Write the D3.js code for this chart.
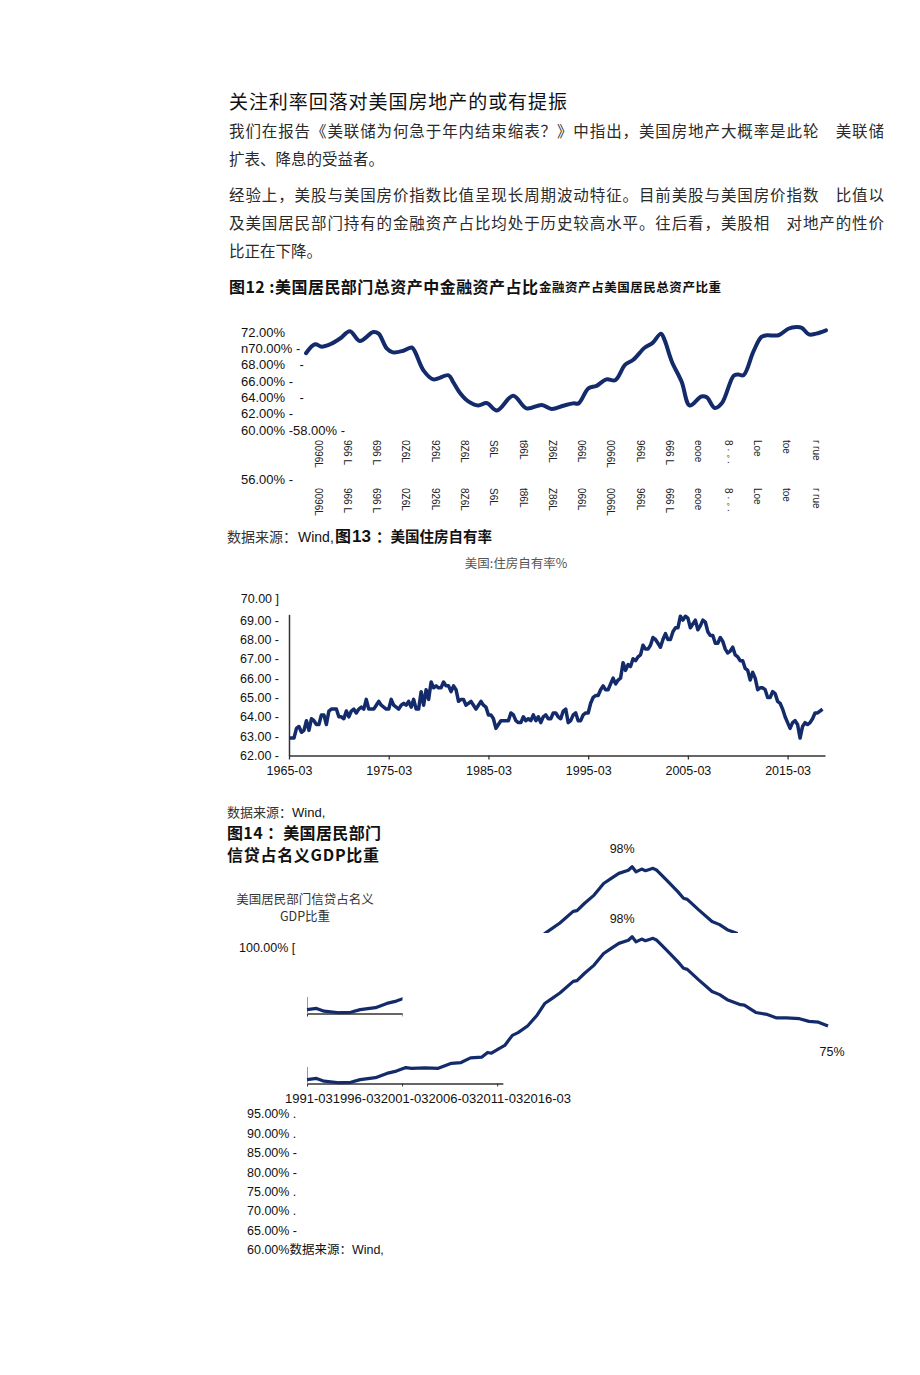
<!DOCTYPE html>
<html>
<head>
<meta charset="utf-8">
<script src="https://cdn.jsdelivr.net/npm/d3@7"></script>
<style>
  body { margin: 0; background: #fff; }
  svg text { font-family: "Liberation Sans", Arial, "Noto Sans CJK SC", sans-serif; fill: #111; }
  .cjk { font-family: "Noto Sans CJK SC", sans-serif; }
</style>
</head>
<body>
<svg width="920" height="1375"></svg>
<script>
// ---- text of the page ----
var heading = "关注利率回落对美国房地产的或有提振";
var para1 = ["我们在报告《美联储为何急于年内结束缩表？》中指出，美国房地产大概率是此轮　美联储",
             "扩表、降息的受益者。"];
var para2 = ["经验上，美股与美国房价指数比值呈现长周期波动特征。目前美股与美国房价指数　比值以",
             "及美国居民部门持有的金融资产占比均处于历史较高水平。往后看，美股相　对地产的性价",
             "比正在下降。"];

// ---- fig 12: financial assets share of household total assets ----
var faYears = [1960,1961,1961.75,1962.7,1963.8,1964.9,1966,1967.5,1968.1,1969,1969.7,1970.85,1971.8,1972.15,1973.1,
  1974.2,1975.9,1976.4,1977.2,1978.1,1979.2,1980.15,1981.3,1983.1,1984.6,1986.3,1987.4,1988.7,1989.8,1990.4,
  1991.5,1992.4,1993.5,1994.5,1995.6,1996.5,1997.8,1998.6,1999.6,2000,2000.8,2001.9,2002.8,2004.1,2004.7,
  2005.6,2006.4,2007.7,2008.2,2008.8,2009.9,2010.8,2011.4,2012.7,2013.8,2014.7,2015.3,2016.1,2016.9,2018];
var faValues = [69.4,70.5,70.2,70.5,71.2,72.1,70.9,72.0,71.8,70.0,69.5,69.7,70.1,69.6,67.3,
  66.2,66.7,65.9,64.5,63.5,63.0,63.3,62.4,64.2,62.65,63.06,62.57,62.97,63.26,63.26,
  65.1,65.4,66.2,66.1,68.0,68.6,70.1,70.6,71.8,71.0,68.4,65.9,63.0,64.1,64.0,
  62.7,63.3,66.65,66.8,66.7,69.6,71.4,71.6,71.6,72.4,72.6,72.5,71.7,71.8,72.2];
var faYTickValues = [72, 70, 68, 66, 64, 62, 60, 56];
var faYTickLabels = ["72.00%", "n70.00% -", "68.00%    -", "66.00% -", "64.00%    -", "62.00% -", "60.00% -58.00% -", "56.00% -"];
var faXLabels = ["0096L","966 L","696 L","0Z6L","926L","8Z6L","S6L","t86L","Z86L",
                 "066L","0066L","966L","666 L","eooe","8 · ◦ ·","Loe","toe","r rue"];

// ---- fig 13: US homeownership rate, quarterly from 1965-03 ----
var hoStart = 1965;
var hoValues = [
  62.9,62.9,62.9,63.4, 63.5,63.2,63.3,63.8, 63.3,63.9,63.8,63.6, 63.6,64.1,64.1,63.6,
  64.3,64.4,64.4,64.4, 64.0,64.0,63.9,64.3, 64.0,64.3,64.4,64.2, 64.4,64.5,64.4,64.9,
  64.4,64.4,64.4,64.6, 64.8,64.6,64.5,64.4, 64.4,64.9,64.6,64.5, 64.4,64.6,64.7,64.6,
  64.8,64.5,64.9,64.4, 64.4,65.3,64.6,65.4, 64.9,65.8,65.5,65.6, 65.5,65.5,65.8,65.6,
  65.6,65.3,65.6,65.4, 64.8,64.9,64.9,64.6, 64.7,64.8,64.6,64.4, 64.6,64.8,64.6,64.5,
  64.1,64.1,63.9,63.4, 63.6,63.8,63.8,63.8, 63.8,64.2,64.1,63.8, 63.7,63.7,64.0,63.8,
  63.9,63.8,64.1,63.8, 64.0,63.7,64.0,64.1, 63.9,63.9,64.2,64.2, 64.0,63.9,64.3,64.4,
  63.7,63.8,64.1,64.2, 63.8,63.8,64.1,64.2, 64.2,64.7,65.0,65.1, 65.1,65.4,65.6,65.4,
  65.4,65.7,66.0,65.7, 65.9,66.0,66.8,66.4, 66.7,66.6,67.0,66.9, 67.1,67.2,67.7,67.5,
  67.5,67.7,68.1,68.0, 67.8,67.6,68.0,68.3, 68.0,68.0,68.4,68.6, 68.6,69.2,69.0,69.2,
  69.1,68.6,68.8,69.0, 68.5,68.7,69.0,68.9, 68.4,68.2,68.2,67.8, 67.8,68.1,67.9,67.5,
  67.3,67.4,67.6,67.2, 67.1,66.9,66.9,66.5, 66.4,65.9,66.3,66.0, 65.4,65.5,65.5,65.4,
  65.0,65.0,65.3,65.2, 64.8,64.7,64.4,64.0, 63.7,63.4,63.7,63.8, 63.6,62.9,63.5,63.7,
  63.6,63.7,63.9,64.2, 64.2,64.3,64.4];
var hoYTicks = [69, 68, 67, 66, 65, 64, 63, 62];
var hoXTicks = [1965, 1975, 1985, 1995, 2005, 2015];

// ---- fig 14: household credit / nominal GDP ----
var crYears = [1991.0,1991.5,1991.9,1992.7,1993.3,1993.8,1994.6,1995.2,1995.7,1996.2,1996.5,1997.2,1997.9,1998.6,1999.1,
  1999.6,2000.2,2000.5,2000.7,2001.1,2001.4,2001.8,2002.1,2002.6,2003.1,2003.5,2003.8,2004.3,2005.0,2005.2,
  2005.6,2006.1,2006.6,2007.0,2007.4,2007.9,2008.1,2008.3,2008.6,2008.8,2009.2,2009.4,2009.9,2010.5,2010.8,
  2011.0,2011.6,2012.3,2012.7,2013.1,2013.8,2014.0,2014.6,2015.2,2015.7,2016.2,2016.9,2017.4,2017.9,2018.4];
var crValues = [61.0,61.3,60.6,60.2,60.3,61.0,61.5,62.6,63.2,64.1,63.9,64.0,63.9,65.2,65.4,
  66.6,66.8,68.0,67.8,69.0,69.8,72.4,73.1,74.8,77.6,80.6,81.6,83.3,86.3,86.5,
  88.4,90.5,93.5,94.8,96.1,96.9,97.8,96.5,97.2,96.8,97.4,96.9,94.4,91.4,89.7,
  89.4,86.7,83.7,82.9,81.6,80.3,80.2,78.3,77.8,76.9,76.9,76.7,76.0,75.8,74.8];
var crXLabels = ["1991-03","1996-03","2001-03","2006-03","2011-03","2016-03"];
var crYLabels = ["95.00% .","90.00% .","85.00% -","80.00% -","75.00% .","70.00% .","65.00% -","60.00%数据来源：Wind,"];

var navy = "#132b6b";
var svg = d3.select("svg");
svg.append("rect").attr("width", 920).attr("height", 1375).attr("fill", "#fff");

// ---------- prose ----------
svg.append("text").attr("class", "cjk").attr("x", 229).attr("y", 109)
    .attr("font-size", "19px").attr("textLength", 338).attr("lengthAdjust", "spacing")
    .text(heading);

function bodyLines(lines, y0) {
  lines.forEach(function(s, i) {
    var t = svg.append("text").attr("class", "cjk")
        .attr("x", 229).attr("y", y0 + i * 28)
        .attr("font-size", "15.5px").style("fill", "#2a2a2a")
        .attr("xml:space", "preserve")
        .text(s);
    if (i < lines.length - 1) t.attr("textLength", 655).attr("lengthAdjust", "spacing");
  });
}
bodyLines(para1, 136.5);
bodyLines(para2, 200.5);

// fig 12 caption
svg.append("text").attr("class", "cjk").attr("x", 229).attr("y", 293)
    .attr("font-size", "16px").attr("font-weight", "bold")
    .attr("textLength", 309).attr("lengthAdjust", "spacing")
    .text("图12 :美国居民部门总资产中金融资产占比");
svg.append("text").attr("class", "cjk").attr("x", 539).attr("y", 292)
    .attr("font-size", "12.5px").attr("font-weight", "bold")
    .attr("textLength", 182).attr("lengthAdjust", "spacing")
    .text("金融资产占美国居民总资产比重");

// ---------- fig 12 chart ----------
var fx = d3.scaleLinear().domain([1960, 2018]).range([306, 826]);
var fy = d3.scaleLinear().domain([56, 60, 72]).range([479, 430, 332]);

svg.append("g").selectAll("text")
  .data(faYTickValues)
  .enter().append("text")
    .attr("x", 241).attr("y", function(d) { return fy(d); })
    .attr("dy", "0.35em").attr("font-size", "13px")
    .attr("xml:space", "preserve")
    .text(function(d, i) { return faYTickLabels[i]; });

var faLine = d3.line()
    .curve(d3.curveCatmullRom.alpha(0.5))
    .x(function(d) { return fx(d[0]); })
    .y(function(d) { return fy(d[1]); });
svg.append("path")
    .datum(d3.zip(faYears, faValues))
    .attr("fill", "none").attr("stroke", navy).attr("stroke-width", 4)
    .attr("stroke-linejoin", "round").attr("stroke-linecap", "round")
    .attr("d", faLine);

// mangled vertical year labels, printed twice, turned on their side
var fl = d3.scalePoint().domain(d3.range(faXLabels.length)).range([318, 816]);
[440, 488].forEach(function(top) {
  svg.append("g").selectAll("text")
    .data(faXLabels)
    .enter().append("text")
      .attr("transform", function(d, i) { return "translate(" + fl(i) + "," + top + ") rotate(90)"; })
      .attr("dy", "0.35em").attr("font-size", "10px")
      .attr("xml:space", "preserve").style("fill", "#222")
      .text(function(d) { return d; });
});

// ---------- fig 13 ----------
var src = svg.append("text").attr("x", 227).attr("y", 542);
src.append("tspan").attr("class", "cjk").attr("font-size", "14px").style("fill", "#333").text("数据来源：");
src.append("tspan").attr("x", 298).attr("font-size", "14px").text("Wind,");
src.append("tspan").attr("x", 335).attr("class", "cjk").attr("font-size", "16px").attr("font-weight", "bold").text("图");
src.append("tspan").attr("x", 352).attr("font-size", "17px").attr("font-weight", "bold").text("13");
src.append("tspan").attr("x", 376).attr("class", "cjk").attr("font-size", "14.5px").attr("font-weight", "bold").text("：美国住房自有率");

svg.append("text").attr("class", "cjk").attr("x", 516).attr("y", 568)
    .attr("text-anchor", "middle").attr("font-size", "12.5px").style("fill", "#555")
    .text("美国:住房自有率%");

var hx = d3.scaleLinear().domain([1965, 2018.75]).range([289, 825]);
var hy = d3.scaleLinear().domain([62, 69.3]).range([755.5, 614.3]);
var hoData = hoValues.map(function(v, i) { return [hoStart + i / 4, v]; });

var gY = svg.append("g").attr("transform", "translate(289,0)")
    .call(d3.axisLeft(hy).tickValues(hoYTicks).tickSize(0).tickSizeOuter(0).tickPadding(10)
      .tickFormat(function(d) { return d3.format(".2f")(d) + " -"; }));
gY.selectAll("text").attr("font-size", "12.5px").attr("font-family", "Liberation Sans, Arial, sans-serif").style("fill", "#111");
gY.select(".domain").attr("stroke", "#333").attr("stroke-width", 1.5);
svg.append("text").attr("x", 279).attr("y", hy(70) - 2).attr("dy", "0.35em")
    .attr("text-anchor", "end").attr("font-size", "12.5px").text("70.00 ]");

var gX = svg.append("g").attr("transform", "translate(0," + hy(62) + ")")
    .call(d3.axisBottom(hx).tickValues(hoXTicks).tickSize(4).tickSizeOuter(0).tickPadding(7)
      .tickFormat(function(d) { return d + "-03"; }));
gX.selectAll("text").attr("font-size", "12.5px").attr("font-family", "Liberation Sans, Arial, sans-serif").style("fill", "#111");
gX.select(".domain").attr("stroke", "#333").attr("stroke-width", 1.5);
gX.selectAll(".tick line").attr("stroke", "#333").attr("stroke-width", 1.3);

svg.append("path")
    .datum(hoData)
    .attr("fill", "none").attr("stroke", navy).attr("stroke-width", 3.5)
    .attr("stroke-linejoin", "round")
    .attr("d", d3.line().x(function(d) { return hx(d[0]); }).y(function(d) { return hy(d[1]); }));

// ---------- fig 14 ----------
svg.append("text").attr("x", 227).attr("y", 817).attr("font-size", "13px")
  .call(function(t) {
    t.append("tspan").attr("class", "cjk").style("fill", "#333").text("数据来源：");
    t.append("tspan").text("Wind,");
  });
svg.append("text").attr("class", "cjk").attr("x", 227).attr("y", 839)
    .attr("font-size", "16px").attr("font-weight", "bold")
    .attr("textLength", 154).attr("lengthAdjust", "spacing")
    .text("图14 ：美国居民部门");
svg.append("text").attr("class", "cjk").attr("x", 227).attr("y", 861)
    .attr("font-size", "16px").attr("font-weight", "bold")
    .attr("textLength", 152).attr("lengthAdjust", "spacing")
    .text("信贷占名义GDP比重");
svg.append("text").attr("class", "cjk").attr("x", 305).attr("y", 904)
    .attr("text-anchor", "middle").attr("font-size", "12.5px").style("fill", "#333")
    .text("美国居民部门信贷占名义");
svg.append("text").attr("class", "cjk").attr("x", 305).attr("y", 921)
    .attr("text-anchor", "middle").attr("font-size", "12.5px").style("fill", "#333")
    .text("GDP比重");
svg.append("text").attr("x", 239).attr("y", 948).attr("dy", "0.35em")
    .attr("font-size", "12.5px").text("100.00% [");

var cx = d3.scaleLinear().domain([1991, 2018.4]).range([307, 828]);
var cy = d3.scaleLinear().domain([60, 98]).range([1083.5, 936]);
var cxAxis = d3.scaleLinear().domain([1991, 2001.3]).range([cx(1991), cx(2001.3)]);
var cyAxis = d3.scaleLinear().domain([60, 64.4]).range([cy(60), cy(64.4)]);
var crLine = d3.line().x(function(d) { return cx(d[0]); }).y(function(d) { return cy(d[1]); });
var crData = d3.zip(crYears, crValues);
var peak = crData[d3.maxIndex(crValues)];

function drawCredit(g) {
  var ax = g.append("g").attr("transform", "translate(0," + cy(60) + ")")
      .call(d3.axisBottom(cxAxis).tickValues([1991, 1996, 2001]).tickSize(3).tickSizeOuter(0).tickFormat(""));
  ax.select(".domain").attr("stroke", "#333").attr("stroke-width", 1.3);
  ax.selectAll(".tick line").attr("stroke", "#333");
  var ay = g.append("g").attr("transform", "translate(" + cx(1991) + ",0)")
      .call(d3.axisLeft(cyAxis).tickValues([]).tickSizeOuter(0));
  ay.select(".domain").attr("stroke", "#999").attr("stroke-width", 1);
  g.append("path").datum(crData)
      .attr("fill", "none").attr("stroke", navy).attr("stroke-width", 3.2)
      .attr("stroke-linejoin", "round").attr("d", crLine);
  g.append("text").attr("x", cx(peak[0]) - 10).attr("y", cy(peak[1]) - 18).attr("dy", "0.35em")
      .attr("text-anchor", "middle").attr("font-size", "12.5px").text("98%");
}
drawCredit(svg.append("g"));

// stray copy of the chart, shifted up and cut into two pieces
var defs = svg.append("defs");
var clip = defs.append("clipPath").attr("id", "frag");
clip.append("rect").attr("x", 300).attr("y", 990).attr("width", 102.5).attr("height", 32);
clip.append("rect").attr("x", 538).attr("y", 835).attr("width", 200).attr("height", 98);
drawCredit(svg.append("g").attr("clip-path", "url(#frag)")
    .append("g").attr("transform", "translate(0,-70)"));

svg.append("text").attr("x", 832).attr("y", 1052).attr("dy", "0.35em")
    .attr("text-anchor", "middle").attr("font-size", "12.5px").text("75%");

var xl = svg.append("text").attr("x", 285).attr("y", 1099).attr("dy", "0.35em")
    .attr("font-size", "12.5px").attr("textLength", 286).attr("lengthAdjust", "spacingAndGlyphs");
crXLabels.forEach(function(s) { xl.append("tspan").text(s); });

svg.append("g").selectAll("text")
  .data(crYLabels)
  .enter().append("text")
    .attr("x", 247).attr("y", function(d, i) { return 1114 + i * 19.4; })
    .attr("dy", "0.35em").attr("font-size", "12.5px")
    .text(function(d) { return d; });
</script>
</body>
</html>
